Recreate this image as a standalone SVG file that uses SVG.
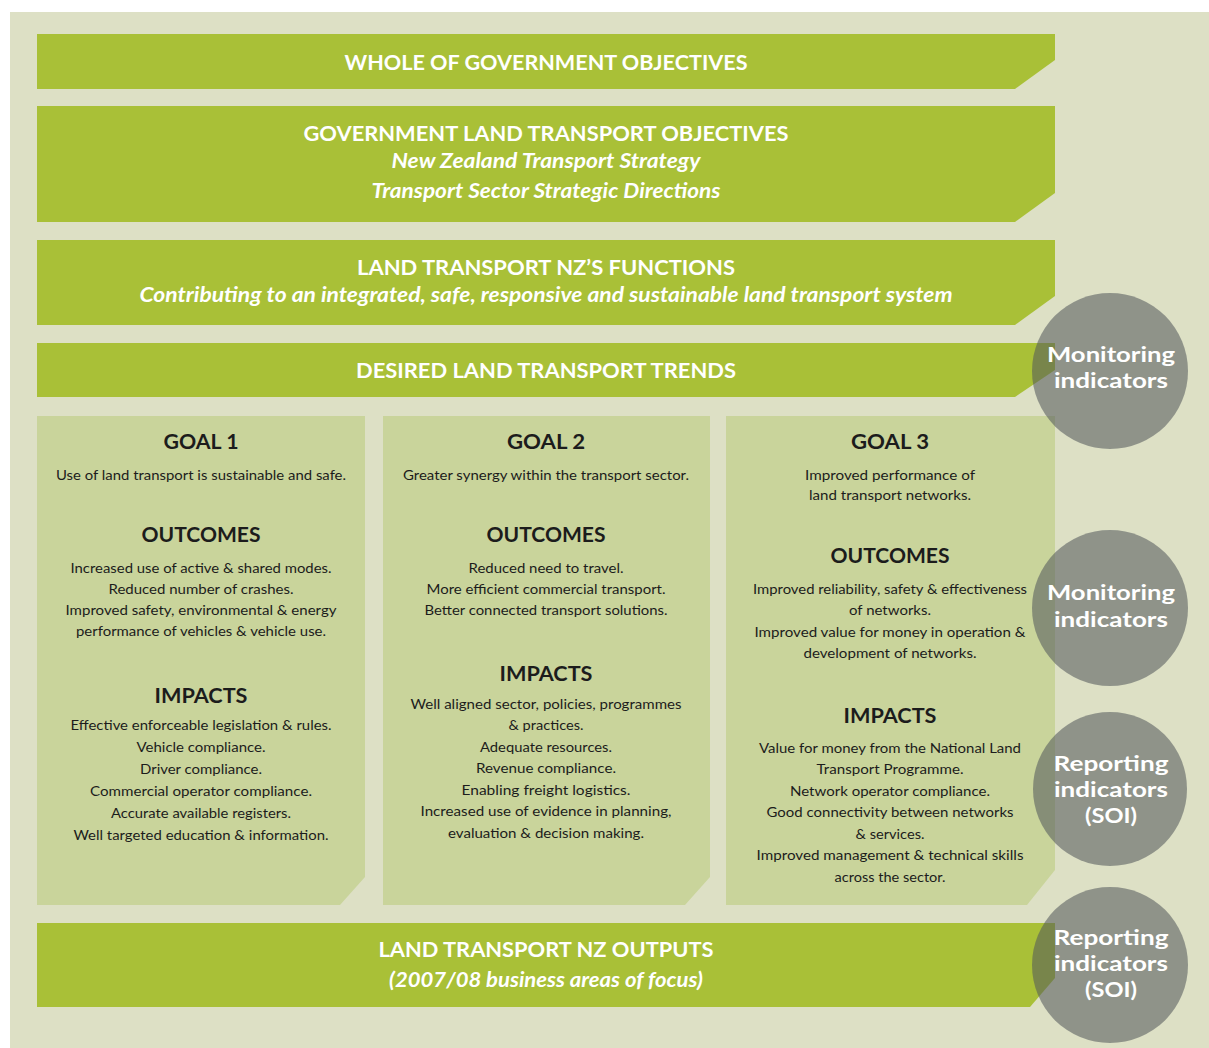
<svg xmlns="http://www.w3.org/2000/svg" width="1209" height="1048" viewBox="0 0 1209 1048">
  <style>
    .bar { fill: #a9c037; }
    .goal { fill: #c9d49b; }
    .dot { fill: #52585b; fill-opacity: 0.56; }
    text { font-family: "Lato", "Open Sans", "Liberation Sans", sans-serif; text-anchor: middle; }
    .bh { fill: #ffffff; font-weight: 700; font-size: 21px; }
    .bi { fill: #ffffff; font-weight: 700; font-style: italic; font-size: 20px; }
    .gh { fill: #1c1c1c; font-weight: 700; font-size: 20px; }
    .gt { fill: #1c1c1c; font-size: 14px; }
    .ct { fill: #ffffff; font-weight: 700; font-size: 21px; }
  </style>

  <!-- page ground -->
  <rect x="0" y="0" width="1209" height="1048" fill="#ffffff"/>
  <rect x="10" y="12" width="1199" height="1036" fill="#dde0c5"/>

  <!-- horizontal banners -->
  <g id="whole-of-government">
    <path class="bar" d="M37,34 H1055 V60 L1015,89 H37 Z"/>
    <text class="bh" x="546" y="70" textLength="403" lengthAdjust="spacingAndGlyphs">WHOLE OF GOVERNMENT OBJECTIVES</text>
  </g>

  <g id="government-land-transport">
    <path class="bar" d="M37,106 H1055 V193 L1015,222 H37 Z"/>
    <text class="bh" x="546" y="141" textLength="485" lengthAdjust="spacingAndGlyphs">GOVERNMENT LAND TRANSPORT OBJECTIVES</text>
    <text class="bi" x="546" y="168" textLength="309" lengthAdjust="spacingAndGlyphs">New Zealand Transport Strategy</text>
    <text class="bi" x="546" y="198" textLength="349" lengthAdjust="spacingAndGlyphs">Transport Sector Strategic Directions</text>
  </g>

  <g id="ltnz-functions">
    <path class="bar" d="M37,240 H1055 V296 L1015,325 H37 Z"/>
    <text class="bh" x="546" y="275" textLength="378" lengthAdjust="spacingAndGlyphs">LAND TRANSPORT NZ’S FUNCTIONS</text>
    <text class="bi" x="546" y="302" textLength="813" lengthAdjust="spacingAndGlyphs">Contributing to an integrated, safe, responsive and sustainable land transport system</text>
  </g>

  <g id="desired-trends">
    <path class="bar" d="M37,343 H1055 V370 L1015,397 H37 Z"/>
    <text class="bh" x="546" y="378" textLength="380" lengthAdjust="spacingAndGlyphs">DESIRED LAND TRANSPORT TRENDS</text>
  </g>

  <!-- goal columns -->
  <g id="goal-1">
    <path class="goal" d="M37,416 H365 V877 L340,905 H37 Z"/>
    <text class="gh" x="201" y="449" textLength="75" lengthAdjust="spacingAndGlyphs">GOAL 1</text>
    <text class="gt" x="201" y="480" textLength="290" lengthAdjust="spacingAndGlyphs">Use of land transport is sustainable and safe.</text>
    <text class="gh" x="201" y="542" textLength="119" lengthAdjust="spacingAndGlyphs">OUTCOMES</text>
    <text class="gt" x="201" y="573" textLength="261" lengthAdjust="spacingAndGlyphs">Increased use of active &amp; shared modes.</text>
    <text class="gt" x="201" y="594" textLength="185" lengthAdjust="spacingAndGlyphs">Reduced number of crashes.</text>
    <text class="gt" x="201" y="615" textLength="271" lengthAdjust="spacingAndGlyphs">Improved safety, environmental &amp; energy</text>
    <text class="gt" x="201" y="636" textLength="250" lengthAdjust="spacingAndGlyphs">performance of vehicles &amp; vehicle use.</text>
    <text class="gh" x="201" y="703" textLength="93" lengthAdjust="spacingAndGlyphs">IMPACTS</text>
    <text class="gt" x="201" y="730" textLength="261" lengthAdjust="spacingAndGlyphs">Effective enforceable legislation &amp; rules.</text>
    <text class="gt" x="201" y="752" textLength="129" lengthAdjust="spacingAndGlyphs">Vehicle compliance.</text>
    <text class="gt" x="201" y="774" textLength="122" lengthAdjust="spacingAndGlyphs">Driver compliance.</text>
    <text class="gt" x="201" y="796" textLength="222" lengthAdjust="spacingAndGlyphs">Commercial operator compliance.</text>
    <text class="gt" x="201" y="818" textLength="180" lengthAdjust="spacingAndGlyphs">Accurate available registers.</text>
    <text class="gt" x="201" y="840" textLength="255" lengthAdjust="spacingAndGlyphs">Well targeted education &amp; information.</text>
  </g>

  <g id="goal-2">
    <path class="goal" d="M383,416 H710 V877 L685,905 H383 Z"/>
    <text class="gh" x="546" y="449" textLength="78" lengthAdjust="spacingAndGlyphs">GOAL 2</text>
    <text class="gt" x="546" y="480" textLength="286" lengthAdjust="spacingAndGlyphs">Greater synergy within the transport sector.</text>
    <text class="gh" x="546" y="542" textLength="119" lengthAdjust="spacingAndGlyphs">OUTCOMES</text>
    <text class="gt" x="546" y="573" textLength="155" lengthAdjust="spacingAndGlyphs">Reduced need to travel.</text>
    <text class="gt" x="546" y="594" textLength="239" lengthAdjust="spacingAndGlyphs">More efficient commercial transport.</text>
    <text class="gt" x="546" y="615" textLength="243" lengthAdjust="spacingAndGlyphs">Better connected transport solutions.</text>
    <text class="gh" x="546" y="681" textLength="93" lengthAdjust="spacingAndGlyphs">IMPACTS</text>
    <text class="gt" x="546" y="709" textLength="271" lengthAdjust="spacingAndGlyphs">Well aligned sector, policies, programmes</text>
    <text class="gt" x="546" y="730" textLength="75" lengthAdjust="spacingAndGlyphs">&amp; practices.</text>
    <text class="gt" x="546" y="752" textLength="132" lengthAdjust="spacingAndGlyphs">Adequate resources.</text>
    <text class="gt" x="546" y="773" textLength="140" lengthAdjust="spacingAndGlyphs">Revenue compliance.</text>
    <text class="gt" x="546" y="795" textLength="169" lengthAdjust="spacingAndGlyphs">Enabling freight logistics.</text>
    <text class="gt" x="546" y="816" textLength="251" lengthAdjust="spacingAndGlyphs">Increased use of evidence in planning,</text>
    <text class="gt" x="546" y="838" textLength="196" lengthAdjust="spacingAndGlyphs">evaluation &amp; decision making.</text>
  </g>

  <g id="goal-3">
    <path class="goal" d="M726,416 H1055 V870 L1027,905 H726 Z"/>
    <text class="gh" x="890" y="449" textLength="78" lengthAdjust="spacingAndGlyphs">GOAL 3</text>
    <text class="gt" x="890" y="480" textLength="170" lengthAdjust="spacingAndGlyphs">Improved performance of</text>
    <text class="gt" x="890" y="500" textLength="162" lengthAdjust="spacingAndGlyphs">land transport networks.</text>
    <text class="gh" x="890" y="563" textLength="119" lengthAdjust="spacingAndGlyphs">OUTCOMES</text>
    <text class="gt" x="890" y="594" textLength="274" lengthAdjust="spacingAndGlyphs">Improved reliability, safety &amp; effectiveness</text>
    <text class="gt" x="890" y="615" textLength="82" lengthAdjust="spacingAndGlyphs">of networks.</text>
    <text class="gt" x="890" y="637" textLength="271" lengthAdjust="spacingAndGlyphs">Improved value for money in operation &amp;</text>
    <text class="gt" x="890" y="658" textLength="173" lengthAdjust="spacingAndGlyphs">development of networks.</text>
    <text class="gh" x="890" y="723" textLength="93" lengthAdjust="spacingAndGlyphs">IMPACTS</text>
    <text class="gt" x="890" y="753" textLength="262" lengthAdjust="spacingAndGlyphs">Value for money from the National Land</text>
    <text class="gt" x="890" y="774" textLength="147" lengthAdjust="spacingAndGlyphs">Transport Programme.</text>
    <text class="gt" x="890" y="796" textLength="200" lengthAdjust="spacingAndGlyphs">Network operator compliance.</text>
    <text class="gt" x="890" y="817" textLength="247" lengthAdjust="spacingAndGlyphs">Good connectivity between networks</text>
    <text class="gt" x="890" y="839" textLength="69" lengthAdjust="spacingAndGlyphs">&amp; services.</text>
    <text class="gt" x="890" y="860" textLength="267" lengthAdjust="spacingAndGlyphs">Improved management &amp; technical skills</text>
    <text class="gt" x="890" y="882" textLength="111" lengthAdjust="spacingAndGlyphs">across the sector.</text>
  </g>

  <g id="ltnz-outputs">
    <path class="bar" d="M37,923 H1055 V978 L1030,1007 H37 Z"/>
    <text class="bh" x="546" y="957" textLength="335" lengthAdjust="spacingAndGlyphs">LAND TRANSPORT NZ OUTPUTS</text>
    <text class="bi" x="546" y="987" textLength="314" lengthAdjust="spacingAndGlyphs">(2007/08 business areas of focus)</text>
  </g>

  <!-- indicator discs on the right edge -->
  <g id="monitoring-trends">
    <circle class="dot" cx="1110" cy="371" r="78"/>
    <text class="ct" x="1111" y="362" textLength="128" lengthAdjust="spacingAndGlyphs">Monitoring</text>
    <text class="ct" x="1111" y="388" textLength="114" lengthAdjust="spacingAndGlyphs">indicators</text>
  </g>

  <g id="monitoring-outcomes">
    <circle class="dot" cx="1110" cy="608" r="78"/>
    <text class="ct" x="1111" y="600" textLength="128" lengthAdjust="spacingAndGlyphs">Monitoring</text>
    <text class="ct" x="1111" y="627" textLength="114" lengthAdjust="spacingAndGlyphs">indicators</text>
  </g>

  <g id="reporting-impacts">
    <circle class="dot" cx="1110" cy="789" r="77"/>
    <text class="ct" x="1111" y="771" textLength="115" lengthAdjust="spacingAndGlyphs">Reporting</text>
    <text class="ct" x="1111" y="797" textLength="114" lengthAdjust="spacingAndGlyphs">indicators</text>
    <text class="ct" x="1111" y="823" textLength="52" lengthAdjust="spacingAndGlyphs">(SOI)</text>
  </g>

  <g id="reporting-outputs">
    <circle class="dot" cx="1110" cy="965" r="78"/>
    <text class="ct" x="1111" y="945" textLength="115" lengthAdjust="spacingAndGlyphs">Reporting</text>
    <text class="ct" x="1111" y="971" textLength="114" lengthAdjust="spacingAndGlyphs">indicators</text>
    <text class="ct" x="1111" y="997" textLength="52" lengthAdjust="spacingAndGlyphs">(SOI)</text>
  </g>

  <g id="connectors"/>
</svg>
